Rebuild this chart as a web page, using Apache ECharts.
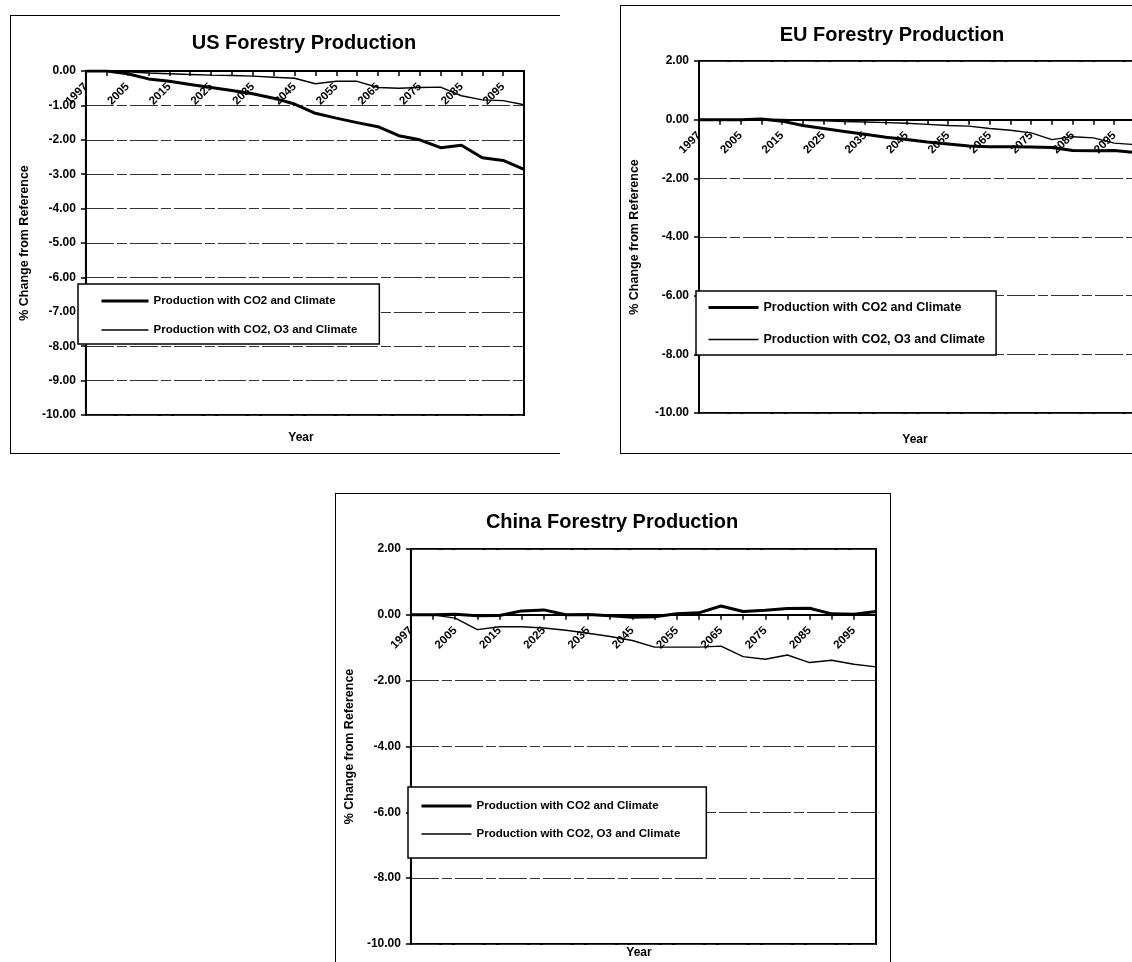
<!DOCTYPE html>
<html>
<head>
<meta charset="utf-8">
<script src="https://cdn.jsdelivr.net/npm/echarts/dist/echarts.min.js"></script>
<style>
  html, body { margin: 0; padding: 0; background: #fff; }
  body { position: relative; width: 1132px; height: 962px; overflow: hidden; }
  .clip { position: absolute; overflow: hidden; }
  .frame { position: absolute; left: 0; top: 0; border: 1.5px solid #000; box-sizing: border-box; }
  .chart { position: absolute; left: 0; top: 0; }
</style>
</head>
<body>
<div class="clip" style="left:10px;top:15px;width:550px;height:439px;">
  <div class="frame" style="width:600px;height:439px;"></div>
  <div id="us" class="chart" style="width:600px;height:439px;"></div>
</div>
<div class="clip" style="left:620px;top:5px;width:512px;height:449px;">
  <div class="frame" style="width:560px;height:449px;"></div>
  <div id="eu" class="chart" style="width:560px;height:449px;"></div>
</div>
<div class="clip" style="left:335px;top:493px;width:556px;height:469px;">
  <div class="frame" style="width:556px;height:480px;"></div>
  <div id="china" class="chart" style="width:556px;height:480px;"></div>
</div>
<script>
// Simulation years on the category axis
var YEARS = ['1997', '2000', '2005', '2010', '2015', '2020', '2025', '2030', '2035', '2040', '2045',
             '2050', '2055', '2060', '2065', '2070', '2075', '2080', '2085', '2090', '2095', '2100'];

var SERIES_NAMES = ['Production with CO2 and Climate', 'Production with CO2, O3 and Climate'];

// % change from reference, United States
var US_CO2_CLIMATE = [0, 0, -0.08, -0.23, -0.3, -0.39, -0.48, -0.57, -0.66, -0.79, -0.96,
                      -1.23, -1.37, -1.5, -1.62, -1.88, -2.0, -2.23, -2.16, -2.52, -2.6, -2.86];
var US_CO2_O3_CLIMATE = [0, 0, -0.02, -0.06, -0.08, -0.1, -0.12, -0.13, -0.15, -0.18, -0.21,
                         -0.37, -0.3, -0.3, -0.48, -0.5, -0.48, -0.47, -0.72, -0.84, -0.86, -0.98];

// % change from reference, European Union
var EU_CO2_CLIMATE = [0, 0, 0, 0.02, -0.05, -0.2, -0.3, -0.4, -0.5, -0.6, -0.68,
                      -0.76, -0.83, -0.9, -0.92, -0.92, -0.93, -0.95, -1.05, -1.06, -1.05, -1.12];
var EU_CO2_O3_CLIMATE = [0, 0, 0, 0.02, 0.01, -0.02, -0.04, -0.06, -0.08, -0.1, -0.12,
                         -0.16, -0.2, -0.22, -0.3, -0.36, -0.45, -0.68, -0.58, -0.62, -0.8, -0.85];

// % change from reference, China
var CHINA_CO2_CLIMATE = [0, 0, 0.02, -0.03, -0.02, 0.12, 0.15, 0, 0.01, -0.03, -0.07,
                         -0.06, 0.03, 0.06, 0.27, 0.1, 0.14, 0.19, 0.2, 0.03, 0.02, 0.1];
var CHINA_CO2_O3_CLIMATE = [0, 0, -0.1, -0.45, -0.36, -0.36, -0.4, -0.47, -0.56, -0.66, -0.78,
                            -0.98, -0.98, -0.98, -0.95, -1.27, -1.35, -1.22, -1.45, -1.38, -1.5, -1.58];

var FONT = '"Liberation Sans", Arial, Helvetica, sans-serif';
var THICK = 3, THIN = 1.4;

function buildOption(c) {
  // the category axis sits on the zero line of the value axis
  var zeroOffset = -c.grid[3] * (0 - c.yMin) / (c.yMax - c.yMin);
  return {
    animation: false,
    textStyle: { fontFamily: FONT },
    grid: {
      left: c.grid[0], top: c.grid[1], width: c.grid[2], height: c.grid[3],
      show: true, borderColor: '#000', borderWidth: 2, backgroundColor: 'transparent'
    },
    legend: {
      orient: 'vertical',
      left: c.legend.left, top: c.legend.top,
      itemWidth: c.legend.itemWidth, itemHeight: 14, itemGap: c.legend.gap,
      padding: c.legend.padding,
      borderColor: '#000', borderWidth: 1.5, borderRadius: 0, backgroundColor: '#fff',
      selectedMode: false,
      itemStyle: { opacity: 0 },
      textStyle: { fontFamily: FONT, fontSize: c.legend.fontSize, fontWeight: 'bold', color: '#000' },
      data: [
        { name: SERIES_NAMES[0], lineStyle: { color: '#000', width: THICK } },
        { name: SERIES_NAMES[1], lineStyle: { color: '#000', width: THIN } }
      ]
    },
    xAxis: {
      type: 'category',
      data: YEARS,
      boundaryGap: false,
      position: 'bottom',
      offset: zeroOffset,
      axisLine: { onZero: false, lineStyle: { color: '#000', width: 2 } },
      axisTick: { show: true, interval: 0, length: 5, lineStyle: { color: '#000', width: 1.5 } },
      axisLabel: { interval: 1, rotate: 45, fontFamily: FONT, fontSize: 11.5, fontWeight: 'bold', color: '#000', margin: 14 },
      splitLine: { show: false }
    },
    yAxis: {
      type: 'value',
      min: c.yMin, max: c.yMax, interval: c.yStep,
      name: '% Change from Reference',
      nameLocation: 'middle', nameRotate: 90, nameGap: c.nameGap,
      nameTextStyle: { fontFamily: FONT, fontSize: 12.5, fontWeight: 'bold', color: '#000' },
      axisLine: { show: true, onZero: false, lineStyle: { color: '#000', width: 2 } },
      axisTick: { show: true, length: 5, lineStyle: { color: '#000', width: 1.5 } },
      axisLabel: {
        formatter: function (v) { return v.toFixed(2); },
        fontFamily: FONT, fontSize: 12, fontWeight: 'bold', color: '#000', margin: 10
      },
      splitLine: { show: true, lineStyle: { color: '#333', width: 1, type: [28, 3, 10, 3] } }
    },
    series: [
      {
        name: SERIES_NAMES[0], type: 'line', data: c.thick, symbol: 'none',
        lineStyle: { color: '#000', width: THICK }, itemStyle: { color: '#000' }, z: 3
      },
      {
        name: SERIES_NAMES[1], type: 'line', data: c.thin, symbol: 'none',
        lineStyle: { color: '#000', width: THIN }, itemStyle: { color: '#000' }, z: 3
      }
    ],
    graphic: [
      {
        type: 'text', x: c.title[1], y: c.title[2],
        style: { text: c.title[0], font: 'bold 20px ' + FONT, fill: '#000', textAlign: 'center', textVerticalAlign: 'middle' }
      },
      {
        type: 'text', x: c.year[0], y: c.year[1],
        style: { text: 'Year', font: 'bold 12px ' + FONT, fill: '#000', textAlign: 'center', textVerticalAlign: 'middle' }
      }
    ]
  };
}

echarts.init(document.getElementById('us')).setOption(buildOption({
  title: ['US Forestry Production', 294, 28],
  year: [291, 423],
  grid: [68, 56, 446, 344],
  yMin: -10, yMax: 0, yStep: 1,
  nameGap: 53,
  legend: { left: 68, top: 269, itemWidth: 47, gap: 17, padding: [11, 22, 8, 22], fontSize: 11.5 },
  thick: US_CO2_CLIMATE,
  thin: US_CO2_O3_CLIMATE
}));

echarts.init(document.getElementById('eu')).setOption(buildOption({
  title: ['EU Forestry Production', 272, 30],
  year: [295, 435],
  grid: [77, 56, 438, 352],
  yMin: -10, yMax: 2, yStep: 2,
  nameGap: 58,
  legend: { left: 76, top: 286, itemWidth: 50, gap: 19, padding: [10, 11, 9, 11], fontSize: 12.5 },
  thick: EU_CO2_CLIMATE,
  thin: EU_CO2_O3_CLIMATE
}));

echarts.init(document.getElementById('china')).setOption(buildOption({
  title: ['China Forestry Production', 277, 29],
  year: [304, 460],
  grid: [68, 56, 473, 395],
  yMin: -10, yMax: 2, yStep: 2,
  nameGap: 53,
  legend: { left: 73, top: 294, itemWidth: 50, gap: 16, padding: [13, 26, 18, 12], fontSize: 11.5 },
  thick: CHINA_CO2_CLIMATE,
  thin: CHINA_CO2_O3_CLIMATE
}));
</script>
</body>
</html>
